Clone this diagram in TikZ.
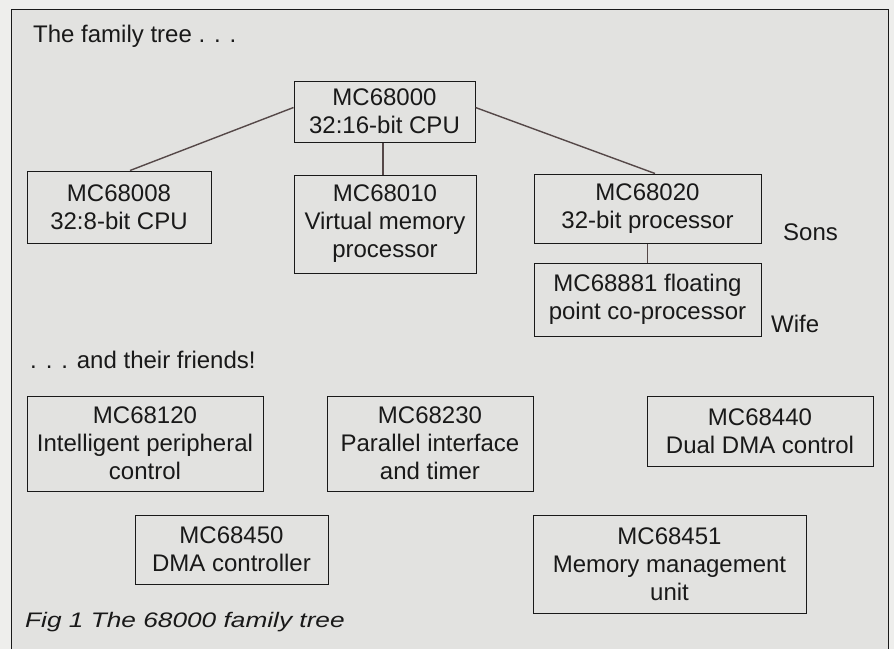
\documentclass[tikz,border=0pt]{standalone}
\usepackage{fontspec}
\setmainfont{Liberation Sans}
\newfontfamily\capfont[FakeStretch=1.25]{Liberation Sans}
\definecolor{paper}{RGB}{226,226,224}
\definecolor{outer}{RGB}{238,238,236}
\definecolor{linkc}{RGB}{85,72,72}
\definecolor{ink}{RGB}{25,25,25}
\begin{document}
\begin{tikzpicture}[x=1pt,y=-1pt,
  box/.style={draw=ink, line width=1pt, inner sep=0pt, align=center,
    font=\fontsize{24}{28}\selectfont, text=ink},
  link/.style={draw=linkc, line width=1.4pt},
  lbl/.style={inner sep=0pt, font=\fontsize{24}{28}\selectfont, text=ink},
  frame/.style={draw=ink, line width=1pt}]
\useasboundingbox (0,0) rectangle (894,649);
\fill[outer] (0,0) rectangle (894,649);
\fill[paper] (11,9) rectangle (888,649);
\draw[frame] (11,649) -- (11,9) -- (888,9) -- (888,649);

\node[box, minimum width=181pt, minimum height=61pt] (a) at (384.5,111.5) {MC68000\\32:16-bit CPU};
\node[box, minimum width=184pt, minimum height=72pt] (b) at (119,207) {MC68008\\32:8-bit CPU};
\node[box, minimum width=182pt, minimum height=98pt] (c) at (385,224) {MC68010\\Virtual memory\\processor};
\node[box, minimum width=227pt, minimum height=69pt] (d) at (647.5,208.5) {MC68020\\32-bit processor};
\node[box, minimum width=227pt, minimum height=73pt] (e) at (647.5,299.5) {MC68881 floating\\point co-processor};

\node[box, minimum width=236pt, minimum height=95pt] (f) at (145,443.5) {MC68120\\Intelligent peripheral\\control};
\node[box, minimum width=206pt, minimum height=95pt] (g) at (430,443.5) {MC68230\\Parallel interface\\and timer};
\node[box, minimum width=226pt, minimum height=70pt] (h) at (760,431) {MC68440\\Dual DMA control};
\node[box, minimum width=193pt, minimum height=69pt] (i) at (231.5,549.5) {MC68450\\DMA controller};
\node[box, minimum width=273pt, minimum height=98pt] (j) at (669.5,564) {MC68451\\Memory management\\unit};

\draw[link] ([yshift=4pt]a.west) -- ([xshift=11pt]b.north);
\draw[link] ([yshift=4pt]a.east) -- ([xshift=7.5pt]d.north);
\draw[link] ([xshift=-1.5pt]a.south) -- ([xshift=-1.5pt]a.south |- c.north);
\draw[link] (d.south) -- (e.north);

\node[lbl, anchor=base west] (title) at (33,42) {The family tree . . .};
\node[lbl, anchor=base west] (friends) at (30,368) {. . . and their friends!};
\node[lbl, anchor=base west] (sons) at (783,240) {Sons};
\node[lbl, anchor=base west] (wife) at (771,332) {Wife};
\node[inner sep=0pt, anchor=base west, text=ink, font=\capfont\itshape\fontsize{21}{24}\selectfont] (cap) at (25,627) {Fig 1 The 68000 family tree};
\end{tikzpicture}
\end{document}
